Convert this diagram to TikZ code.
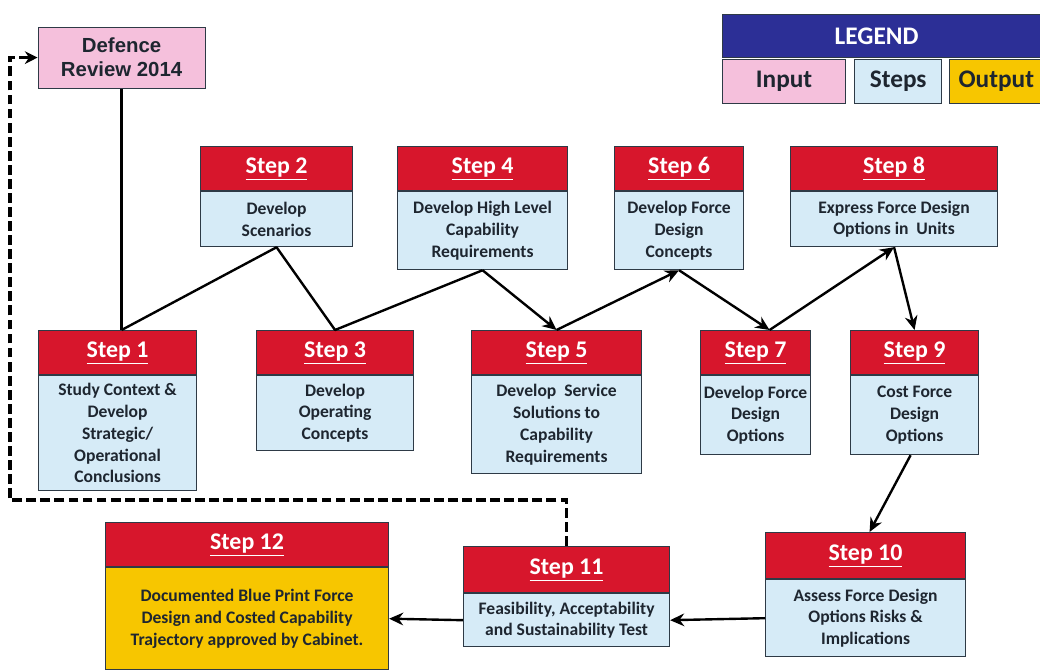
\documentclass[tikz,border=0pt]{standalone}
\usepackage{fontspec}
\setmainfont{Carlito}
\newfontfamily\arialfont{Liberation Sans}
\usetikzlibrary{positioning, arrows.meta}
\definecolor{stepRed}{HTML}{D7162C}
\definecolor{stepBlue}{HTML}{D6EBF7}
\definecolor{inputPink}{HTML}{F5C0DC}
\definecolor{outputYellow}{HTML}{F7C600}
\definecolor{legendBlue}{HTML}{2C2F96}
\definecolor{boxBorder}{HTML}{2E3A46}
\definecolor{bodyText}{HTML}{1E2630}

\tikzset{
  stephead/.style={draw=boxBorder, thick, fill=stepRed, text=white, anchor=north west,
    minimum height=1.1cm, inner sep=1pt, font=\bfseries\fontsize{17}{20}\selectfont},
  stepbody/.style={draw=boxBorder, thick, fill=stepBlue, text=bodyText, align=center,
    inner sep=2pt, font=\bfseries\fontsize{12.5}{15.5}\selectfont},
  legendbox/.style={draw=boxBorder, thick, anchor=north west, minimum height=1.1cm,
    inner sep=1pt, text=bodyText, font=\bfseries\fontsize{18}{21}\selectfont},
  link/.style={line width=1.7pt, black},
  flow/.style={link, -{Stealth[length=10pt, width=9pt]}},
  feedback/.style={line width=2.2pt, black, dash pattern=on 7pt off 3pt,
    -{Stealth[length=9pt, width=9pt]}},
}

\begin{document}
\begin{tikzpicture}
  \useasboundingbox (0,0) rectangle (26,-16.75);

  % input
  \node[draw=boxBorder, thick, fill=inputPink, minimum width=4.175cm, minimum height=1.525cm,
        align=center, text=bodyText, font=\arialfont\bfseries\fontsize{14.5}{17}\selectfont]
        (dr) at (3.04,-1.44) {Defence\\Review 2014};

  % legend
  \node[draw=boxBorder, thick, fill=legendBlue, anchor=north west, minimum width=8.1cm,
        minimum height=1.075cm, text=white, font=\bfseries\fontsize{18}{21}\selectfont]
        (legend) at (18.05,-0.35) {\hspace*{-0.4cm}LEGEND};
  \node[legendbox, fill=inputPink, minimum width=3.075cm] (lgin) at (18.05,-1.475) {Input};
  \node[legendbox, fill=stepBlue, minimum width=2.175cm, right=0.2cm of lgin.north east,
        anchor=north west] (lgsteps) {Steps};
  \node[legendbox, fill=outputYellow, minimum width=2.475cm, right=0.175cm of lgsteps.north east,
        anchor=north west] (lgout) {\hspace*{-0.15cm}Output};

  % top row
  \node[stephead, minimum width=3.8cm] (s2) at (5.0,-3.65) {\underline{Step 2}};
  \node[stepbody, minimum width=3.8cm, minimum height=1.375cm, below=0pt of s2] (s2b)
    {Develop\\Scenarios};

  \node[stephead, minimum width=4.25cm] (s4) at (9.925,-3.65) {\underline{Step 4}};
  \node[stepbody, minimum width=4.25cm, minimum height=1.95cm, below=0pt of s4] (s4b)
    {Develop High Level\\Capability\\Requirements};

  \node[stephead, minimum width=3.225cm] (s6) at (15.35,-3.65) {\underline{Step 6}};
  \node[stepbody, minimum width=3.225cm, minimum height=1.95cm, below=0pt of s6] (s6b)
    {Develop Force\\Design\\Concepts};

  \node[stephead, minimum width=5.175cm] (s8) at (19.75,-3.65) {\underline{Step 8}};
  \node[stepbody, minimum width=5.175cm, minimum height=1.375cm, below=0pt of s8] (s8b)
    {Express Force Design\\Options in~ Units};

  % middle row
  \node[stephead, minimum width=3.95cm] (s1) at (0.95,-8.25) {\underline{Step 1}};
  \node[stepbody, minimum width=3.95cm, minimum height=2.875cm, below=0pt of s1] (s1b)
    {Study Context \&\\Develop\\Strategic/\\Operational\\Conclusions};

  \node[stephead, minimum width=3.925cm] (s3) at (6.4,-8.25) {\underline{Step 3}};
  \node[stepbody, minimum width=3.925cm, minimum height=1.875cm, below=0pt of s3] (s3b)
    {Develop\\Operating\\Concepts};

  \node[stephead, minimum width=4.25cm] (s5) at (11.775,-8.25) {\underline{Step 5}};
  \node[stepbody, minimum width=4.25cm, minimum height=2.45cm, below=0pt of s5] (s5b)
    {Develop~ Service\\Solutions to\\Capability\\Requirements};

  \node[stephead, minimum width=2.75cm] (s7) at (17.5,-8.25) {\underline{Step 7}};
  \node[stepbody, minimum width=2.75cm, minimum height=1.975cm, below=0pt of s7] (s7b)
    {Develop Force\\Design\\Options};

  \node[stephead, minimum width=3.2cm] (s9) at (21.25,-8.25) {\underline{Step 9}};
  \node[stepbody, minimum width=3.2cm, minimum height=1.975cm, below=0pt of s9] (s9b)
    {Cost Force\\Design\\Options};

  % bottom row
  \node[stephead, minimum width=5.0cm, minimum height=1.15cm] (s10) at (19.125,-13.3)
    {\underline{Step 10}};
  \node[stepbody, minimum width=5.0cm, minimum height=1.925cm, below=0pt of s10] (s10b)
    {Assess Force Design\\Options Risks \&\\Implications};

  \node[stephead, minimum width=5.15cm, minimum height=1.15cm] (s11) at (11.575,-13.65)
    {\underline{Step 11}};
  \node[stepbody, minimum width=5.15cm, minimum height=1.325cm, below=0pt of s11] (s11b)
    {Feasibility, Acceptability\\and Sustainability Test};

  \node[stephead, minimum width=7.075cm] (s12) at (2.625,-13.05) {\underline{Step 12}};
  \node[stepbody, fill=outputYellow, minimum width=7.075cm, minimum height=2.55cm,
        below=0pt of s12] (s12b)
    {Documented Blue Print Force\\Design and Costed Capability\\Trajectory approved by Cabinet.};

  % connectors
  \coordinate (join) at (dr.south |- s1.north);
  \draw[link] (dr.south) -- (join);
  \draw[link, line join=round] (join) -- (s2b.south) -- (s3.north) -- (s4b.south);
  \draw[flow] (s4b.south) -- (s5.north);
  \draw[flow] (s5.north) -- (s6b.south);
  \draw[flow] (s6b.south) -- ([xshift=0.35cm]s7.north);
  \draw[flow] ([xshift=0.35cm]s7.north) -- (s8b.south);
  \draw[flow] (s8b.south) -- (s9.north);
  \draw[flow] ([xshift=-0.1cm]s9b.south) -- ([xshift=0.1cm]s10.north);
  \draw[flow] (s10b.west) -- (s11b.east);
  \draw[flow] (s11b.west) -- (s12b.east);

  % feedback loop
  \coordinate (fb) at (0.25,-12.5);
  \draw[feedback] (s11.north) |- (fb) |- (dr.west);
\end{tikzpicture}
\end{document}
